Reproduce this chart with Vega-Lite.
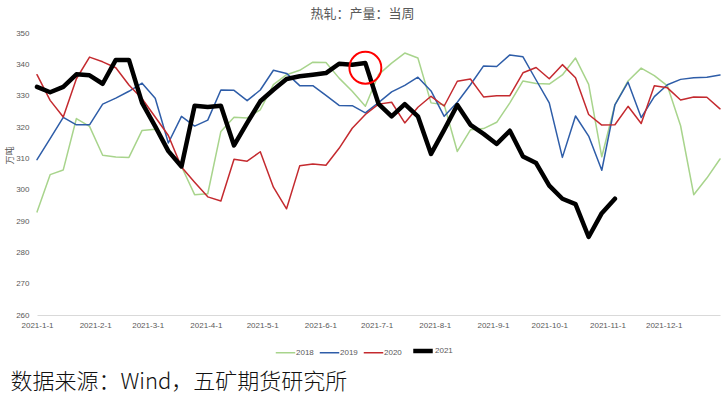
{
  "$schema": "https://vega.github.io/schema/vega-lite/v6.json",
  "width": 683,
  "height": 282,
  "autosize": {"type": "none"},
  "padding": {"left": 37, "top": 33, "right": 5, "bottom": 83},
  "background": "white",
  "title": {"text": "热轧：产量：当周", "fontSize": 13, "font": "Noto Sans CJK SC", "fontWeight": "normal", "color": "#595959", "anchor": "middle", "offset": 8, "dx": -16},
  "config": {"view": {"stroke": null}},
  "datasets": {
    "series": [
      {"d":"2021-01-01","s":"2018","v":292.9},{"d":"2021-01-08","s":"2018","v":304.8},{"d":"2021-01-15","s":"2018","v":306.3},{"d":"2021-01-22","s":"2018","v":322.7},{"d":"2021-01-29","s":"2018","v":320.2},{"d":"2021-02-05","s":"2018","v":311.0},{"d":"2021-02-12","s":"2018","v":310.4},{"d":"2021-02-19","s":"2018","v":310.3},{"d":"2021-02-26","s":"2018","v":318.9},{"d":"2021-03-05","s":"2018","v":319.3},{"d":"2021-03-12","s":"2018","v":313.0},{"d":"2021-03-19","s":"2018","v":307.4},{"d":"2021-03-26","s":"2018","v":298.4},{"d":"2021-04-02","s":"2018","v":298.7},{"d":"2021-04-09","s":"2018","v":318.6},{"d":"2021-04-16","s":"2018","v":323.1},{"d":"2021-04-23","s":"2018","v":322.9},{"d":"2021-04-30","s":"2018","v":325.5},{"d":"2021-05-07","s":"2018","v":333.5},{"d":"2021-05-14","s":"2018","v":336.7},{"d":"2021-05-21","s":"2018","v":338.1},{"d":"2021-05-28","s":"2018","v":340.7},{"d":"2021-06-04","s":"2018","v":340.6},{"d":"2021-06-11","s":"2018","v":335.6},{"d":"2021-06-18","s":"2018","v":331.4},{"d":"2021-06-25","s":"2018","v":326.6},{"d":"2021-07-02","s":"2018","v":336.7},{"d":"2021-07-09","s":"2018","v":340.4},{"d":"2021-07-16","s":"2018","v":343.6},{"d":"2021-07-23","s":"2018","v":342.0},{"d":"2021-07-30","s":"2018","v":327.7},{"d":"2021-08-06","s":"2018","v":327.1},{"d":"2021-08-13","s":"2018","v":312.2},{"d":"2021-08-20","s":"2018","v":319.1},{"d":"2021-08-27","s":"2018","v":319.5},{"d":"2021-09-03","s":"2018","v":321.5},{"d":"2021-09-10","s":"2018","v":327.7},{"d":"2021-09-17","s":"2018","v":334.7},{"d":"2021-09-24","s":"2018","v":333.9},{"d":"2021-10-01","s":"2018","v":333.7},{"d":"2021-10-08","s":"2018","v":336.6},{"d":"2021-10-15","s":"2018","v":342.0},{"d":"2021-10-22","s":"2018","v":333.6},{"d":"2021-10-29","s":"2018","v":310.5},{"d":"2021-11-05","s":"2018","v":327.1},{"d":"2021-11-12","s":"2018","v":334.7},{"d":"2021-11-19","s":"2018","v":338.8},{"d":"2021-11-26","s":"2018","v":336.4},{"d":"2021-12-03","s":"2018","v":333.1},{"d":"2021-12-10","s":"2018","v":320.4},{"d":"2021-12-17","s":"2018","v":298.4},{"d":"2021-12-24","s":"2018","v":303.7},{"d":"2021-12-31","s":"2018","v":309.8},
      {"d":"2021-01-01","s":"2019","v":309.6},{"d":"2021-01-08","s":"2019","v":316.3},{"d":"2021-01-15","s":"2019","v":323.1},{"d":"2021-01-22","s":"2019","v":320.7},{"d":"2021-01-29","s":"2019","v":320.7},{"d":"2021-02-05","s":"2019","v":327.3},{"d":"2021-02-12","s":"2019","v":329.2},{"d":"2021-02-19","s":"2019","v":331.4},{"d":"2021-02-26","s":"2019","v":334.0},{"d":"2021-03-05","s":"2019","v":329.2},{"d":"2021-03-12","s":"2019","v":314.9},{"d":"2021-03-19","s":"2019","v":323.4},{"d":"2021-03-26","s":"2019","v":320.3},{"d":"2021-04-02","s":"2019","v":322.2},{"d":"2021-04-09","s":"2019","v":331.8},{"d":"2021-04-16","s":"2019","v":331.7},{"d":"2021-04-23","s":"2019","v":328.4},{"d":"2021-04-30","s":"2019","v":331.8},{"d":"2021-05-07","s":"2019","v":338.1},{"d":"2021-05-14","s":"2019","v":337.1},{"d":"2021-05-21","s":"2019","v":333.2},{"d":"2021-05-28","s":"2019","v":333.2},{"d":"2021-06-04","s":"2019","v":330.1},{"d":"2021-06-11","s":"2019","v":326.9},{"d":"2021-06-18","s":"2019","v":326.8},{"d":"2021-06-25","s":"2019","v":324.5},{"d":"2021-07-02","s":"2019","v":327.8},{"d":"2021-07-09","s":"2019","v":331.2},{"d":"2021-07-16","s":"2019","v":333.3},{"d":"2021-07-23","s":"2019","v":335.9},{"d":"2021-07-30","s":"2019","v":331.5},{"d":"2021-08-06","s":"2019","v":323.4},{"d":"2021-08-13","s":"2019","v":327.9},{"d":"2021-08-20","s":"2019","v":333.5},{"d":"2021-08-27","s":"2019","v":339.5},{"d":"2021-09-03","s":"2019","v":339.3},{"d":"2021-09-10","s":"2019","v":343.0},{"d":"2021-09-17","s":"2019","v":342.4},{"d":"2021-09-24","s":"2019","v":335.0},{"d":"2021-10-01","s":"2019","v":327.7},{"d":"2021-10-08","s":"2019","v":310.3},{"d":"2021-10-15","s":"2019","v":323.5},{"d":"2021-10-22","s":"2019","v":317.1},{"d":"2021-10-29","s":"2019","v":306.2},{"d":"2021-11-05","s":"2019","v":327.1},{"d":"2021-11-12","s":"2019","v":334.3},{"d":"2021-11-19","s":"2019","v":323.0},{"d":"2021-11-26","s":"2019","v":329.7},{"d":"2021-12-03","s":"2019","v":333.5},{"d":"2021-12-10","s":"2019","v":335.2},{"d":"2021-12-17","s":"2019","v":335.7},{"d":"2021-12-24","s":"2019","v":335.9},{"d":"2021-12-31","s":"2019","v":336.6},
      {"d":"2021-01-01","s":"2020","v":336.7},{"d":"2021-01-08","s":"2020","v":328.5},{"d":"2021-01-15","s":"2020","v":323.2},{"d":"2021-01-22","s":"2020","v":335.4},{"d":"2021-01-29","s":"2020","v":342.3},{"d":"2021-02-05","s":"2020","v":340.8},{"d":"2021-02-12","s":"2020","v":338.9},{"d":"2021-02-19","s":"2020","v":333.4},{"d":"2021-02-26","s":"2020","v":329.0},{"d":"2021-03-05","s":"2020","v":323.2},{"d":"2021-03-12","s":"2020","v":317.3},{"d":"2021-03-19","s":"2020","v":307.2},{"d":"2021-03-26","s":"2020","v":302.4},{"d":"2021-04-02","s":"2020","v":297.7},{"d":"2021-04-09","s":"2020","v":296.4},{"d":"2021-04-16","s":"2020","v":309.7},{"d":"2021-04-23","s":"2020","v":309.1},{"d":"2021-04-30","s":"2020","v":312.1},{"d":"2021-05-07","s":"2020","v":300.8},{"d":"2021-05-14","s":"2020","v":293.9},{"d":"2021-05-21","s":"2020","v":307.6},{"d":"2021-05-28","s":"2020","v":308.2},{"d":"2021-06-04","s":"2020","v":307.8},{"d":"2021-06-11","s":"2020","v":313.2},{"d":"2021-06-18","s":"2020","v":319.6},{"d":"2021-06-25","s":"2020","v":324.0},{"d":"2021-07-02","s":"2020","v":327.3},{"d":"2021-07-09","s":"2020","v":327.9},{"d":"2021-07-16","s":"2020","v":321.3},{"d":"2021-07-23","s":"2020","v":326.3},{"d":"2021-07-30","s":"2020","v":329.8},{"d":"2021-08-06","s":"2020","v":326.7},{"d":"2021-08-13","s":"2020","v":334.6},{"d":"2021-08-20","s":"2020","v":335.3},{"d":"2021-08-27","s":"2020","v":329.6},{"d":"2021-09-03","s":"2020","v":330.0},{"d":"2021-09-10","s":"2020","v":330.0},{"d":"2021-09-17","s":"2020","v":337.3},{"d":"2021-09-24","s":"2020","v":339.0},{"d":"2021-10-01","s":"2020","v":335.4},{"d":"2021-10-08","s":"2020","v":339.9},{"d":"2021-10-15","s":"2020","v":335.7},{"d":"2021-10-22","s":"2020","v":324.0},{"d":"2021-10-29","s":"2020","v":320.6},{"d":"2021-11-05","s":"2020","v":320.7},{"d":"2021-11-12","s":"2020","v":326.6},{"d":"2021-11-19","s":"2020","v":321.1},{"d":"2021-11-26","s":"2020","v":333.2},{"d":"2021-12-03","s":"2020","v":332.5},{"d":"2021-12-10","s":"2020","v":328.6},{"d":"2021-12-17","s":"2020","v":329.6},{"d":"2021-12-24","s":"2020","v":329.5},{"d":"2021-12-31","s":"2020","v":325.8},
      {"d":"2021-01-01","s":"2021","v":332.8},{"d":"2021-01-08","s":"2021","v":331.1},{"d":"2021-01-15","s":"2021","v":332.8},{"d":"2021-01-22","s":"2021","v":336.8},{"d":"2021-01-29","s":"2021","v":336.5},{"d":"2021-02-05","s":"2021","v":333.8},{"d":"2021-02-12","s":"2021","v":341.4},{"d":"2021-02-19","s":"2021","v":341.4},{"d":"2021-02-26","s":"2021","v":327.7},{"d":"2021-03-05","s":"2021","v":320.2},{"d":"2021-03-12","s":"2021","v":312.3},{"d":"2021-03-19","s":"2021","v":307.4},{"d":"2021-03-26","s":"2021","v":326.8},{"d":"2021-04-02","s":"2021","v":326.4},{"d":"2021-04-09","s":"2021","v":326.8},{"d":"2021-04-16","s":"2021","v":314.1},{"d":"2021-04-23","s":"2021","v":321.3},{"d":"2021-04-30","s":"2021","v":328.2},{"d":"2021-05-07","s":"2021","v":331.9},{"d":"2021-05-14","s":"2021","v":335.3},{"d":"2021-05-21","s":"2021","v":336.2},{"d":"2021-05-28","s":"2021","v":336.7},{"d":"2021-06-04","s":"2021","v":337.2},{"d":"2021-06-11","s":"2021","v":340.2},{"d":"2021-06-18","s":"2021","v":339.9},{"d":"2021-06-25","s":"2021","v":340.4},{"d":"2021-07-02","s":"2021","v":327.4},{"d":"2021-07-09","s":"2021","v":323.4},{"d":"2021-07-16","s":"2021","v":327.3},{"d":"2021-07-23","s":"2021","v":323.4},{"d":"2021-07-30","s":"2021","v":311.4},{"d":"2021-08-06","s":"2021","v":319.1},{"d":"2021-08-13","s":"2021","v":327.0},{"d":"2021-08-20","s":"2021","v":320.7},{"d":"2021-08-27","s":"2021","v":317.8},{"d":"2021-09-03","s":"2021","v":314.6},{"d":"2021-09-10","s":"2021","v":318.8},{"d":"2021-09-17","s":"2021","v":310.6},{"d":"2021-09-24","s":"2021","v":308.5},{"d":"2021-10-01","s":"2021","v":301.3},{"d":"2021-10-08","s":"2021","v":297.1},{"d":"2021-10-15","s":"2021","v":295.4},{"d":"2021-10-22","s":"2021","v":284.9},{"d":"2021-10-29","s":"2021","v":292.5},{"d":"2021-11-05","s":"2021","v":297.1}
    ],
    "highlight": [{"d": "2021-06-25", "v": 338.9}]
  },
  "encoding": {
    "x": {
      "field": "d", "type": "temporal",
      "scale": {"type": "utc", "domain": ["2021-01-01", "2021-12-31"]},
      "axis": {
        "tickCount": {"interval": "month", "step": 1},
        "format": "%Y-%-m-%-d",
        "labelFont": "Liberation Sans", "labelFontSize": 8, "labelColor": "#595959",
        "labelPadding": 6, "labelOverlap": false, "labelFlush": false,
        "ticks": false, "grid": false,
        "domain": true, "domainColor": "#d9d9d9", "domainWidth": 1,
        "title": "数据来源：Wind，五矿期货研究所",
        "titleFont": "Noto Sans CJK SC", "titleFontSize": 22, "titleFontWeight": 300, "titleColor": "#111111",
        "titleX": -27, "titleY": 73, "titleAlign": "left", "titleAnchor": "start", "titleBaseline": "alphabetic"
      }
    },
    "y": {
      "field": "v", "type": "quantitative",
      "scale": {"domain": [260, 350], "nice": false, "zero": false},
      "axis": {
        "values": [260, 270, 280, 290, 300, 310, 320, 330, 340, 350],
        "labelFont": "Liberation Sans", "labelFontSize": 8, "labelColor": "#595959", "labelPadding": 8,
        "labelOverlap": false, "labelFlush": false,
        "ticks": false, "grid": false, "domain": false,
        "title": "万吨", "titleFont": "Noto Sans CJK SC", "titleFontSize": 9, "titleFontWeight": "normal", "titleColor": "#595959",
        "titleX": -28, "titleY": 122, "titleAlign": "center", "titleBaseline": "middle"
      }
    }
  },
  "layer": [
    {
      "data": {"name": "series"},
      "mark": {"type": "line", "strokeJoin": "round", "strokeCap": "round"},
      "encoding": {
        "color": {
          "field": "s", "type": "nominal", "title": null,
          "scale": {"domain": ["2018", "2019", "2020", "2021"], "range": ["#A8D48C", "#2E5DA8", "#C42A2F", "#000000"]},
          "legend": {
            "orient": "none", "legendX": 238, "legendY": 306, "direction": "horizontal",
            "symbolType": "stroke", "symbolSize": 380, "labelFont": "Liberation Sans", "labelFontSize": 8, "labelColor": "#595959",
            "labelOffset": 0, "columnPadding": 2
          }
        },
        "strokeWidth": {
          "field": "s", "type": "ordinal", "title": null,
          "scale": {"type": "ordinal", "domain": ["2018", "2019", "2020", "2021"], "range": [1.5, 1.5, 1.5, 4.5]}
        }
      }
    },
    {
      "data": {"name": "highlight"},
      "mark": {"type": "point", "shape": "circle", "filled": false, "stroke": "#FF0000", "strokeWidth": 2, "size": 1018, "opacity": 1}
    }
  ]
}
